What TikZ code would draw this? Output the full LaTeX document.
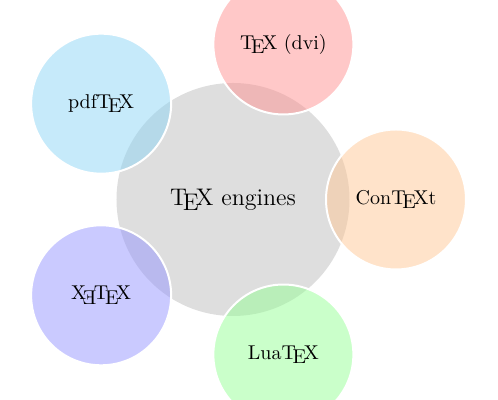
\documentclass[tikz,border=0pt]{standalone}
\definecolor{ccred}{RGB}{255,145,145}
\definecolor{ccorange}{RGB}{255,200,150}
\definecolor{ccgreen}{RGB}{150,255,150}
\definecolor{ccblue}{RGB}{150,150,255}
\definecolor{cccyan}{RGB}{141,213,245}
\tikzset{
  hub/.style={circle, fill=black!13, minimum size=116.5pt, inner sep=0pt, font=\large},
  sat/.style={circle, fill=#1, fill opacity=0.5, text opacity=1, draw=white, line width=1pt, minimum size=70pt, inner sep=0pt}
}
\begin{document}
\begin{tikzpicture}[x=1pt,y=1pt]
\useasboundingbox (-116.5,-100.25) rectangle (132.5,99.75);
\node[hub] (c) at (0,0) {\TeX\ engines};
\node[sat=ccorange] (ctx) at (0:81.5) {Con\TeX t};
\node[sat=ccred] (dvi) at (72:81.5) {\TeX\ (dvi)};
\node[sat=cccyan] (pdf) at (144:81.5) {pdf\TeX};
\node[sat=ccblue] (xe) at (216:81.5) {X\kern-.1667em\lower.5ex\hbox{\reflectbox{E}}\kern-.125em\TeX};
\node[sat=ccgreen] (lua) at (288:81.5) {Lua\TeX};
\end{tikzpicture}
\end{document}
